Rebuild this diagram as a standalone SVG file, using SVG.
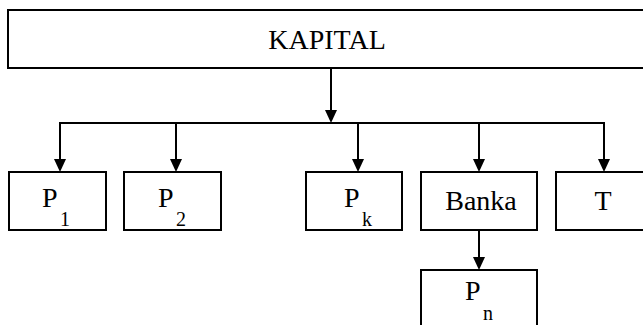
<svg xmlns="http://www.w3.org/2000/svg" width="643" height="325" viewBox="0 0 643 325">
<style>
.box{fill:#fff;stroke:#000;stroke-width:2}
.lbl{font-family:"Liberation Serif","Times New Roman",serif;font-size:28px;fill:#000}
.sub{font-size:20px}
.con{fill:none;stroke:#000;stroke-width:2}
.head{fill:#000}
</style>
<rect width="643" height="325" fill="#fff"/>
<g id="connectors">
<line class="con" x1="331" y1="68" x2="331" y2="112"/>
<path class="head" d="M331,110 l-6,0 l6,13 l6,-13 z"/>
<line class="con" x1="59" y1="123" x2="605" y2="123"/>
<line class="con" x1="60" y1="123" x2="60" y2="161"/>
<path class="head" d="M60,159 l-6,0 l6,13 l6,-13 z"/>
<line class="con" x1="176" y1="123" x2="176" y2="161"/>
<path class="head" d="M176,159 l-6,0 l6,13 l6,-13 z"/>
<line class="con" x1="358" y1="123" x2="358" y2="161"/>
<path class="head" d="M358,159 l-6,0 l6,13 l6,-13 z"/>
<line class="con" x1="479" y1="123" x2="479" y2="161"/>
<path class="head" d="M479,159 l-6,0 l6,13 l6,-13 z"/>
<line class="con" x1="604" y1="123" x2="604" y2="161"/>
<path class="head" d="M604,159 l-6,0 l6,13 l6,-13 z"/>
<line class="con" x1="479" y1="230" x2="479" y2="259"/>
<path class="head" d="M479,257 l-6,0 l6,13 l6,-13 z"/>
</g>
<g id="kapital">
<rect class="box" x="8" y="10" width="650" height="58"/>
<text class="lbl" x="327" y="49" text-anchor="middle">KAPITAL</text>
</g>
<g id="p1">
<rect class="box" x="9" y="172" width="97" height="58"/>
<text class="lbl" x="42" y="207">P<tspan class="sub" x="60" y="226">1</tspan></text>
</g>
<g id="p2">
<rect class="box" x="124" y="172" width="97" height="58"/>
<text class="lbl" x="158" y="207">P<tspan class="sub" x="176" y="226">2</tspan></text>
</g>
<g id="pk">
<rect class="box" x="306" y="172" width="96" height="58"/>
<text class="lbl" x="344" y="207">P<tspan class="sub" x="362" y="226">k</tspan></text>
</g>
<g id="banka">
<rect class="box" x="421" y="172" width="116" height="58"/>
<text class="lbl" x="481" y="210" text-anchor="middle">Banka</text>
</g>
<g id="t">
<rect class="box" x="556" y="172" width="100" height="58"/>
<text class="lbl" x="603" y="210" text-anchor="middle">T</text>
</g>
<g id="pn">
<rect class="box" x="421" y="270" width="116" height="70"/>
<text class="lbl" x="465" y="300">P<tspan class="sub" x="483" y="320">n</tspan></text>
</g>
</svg>
